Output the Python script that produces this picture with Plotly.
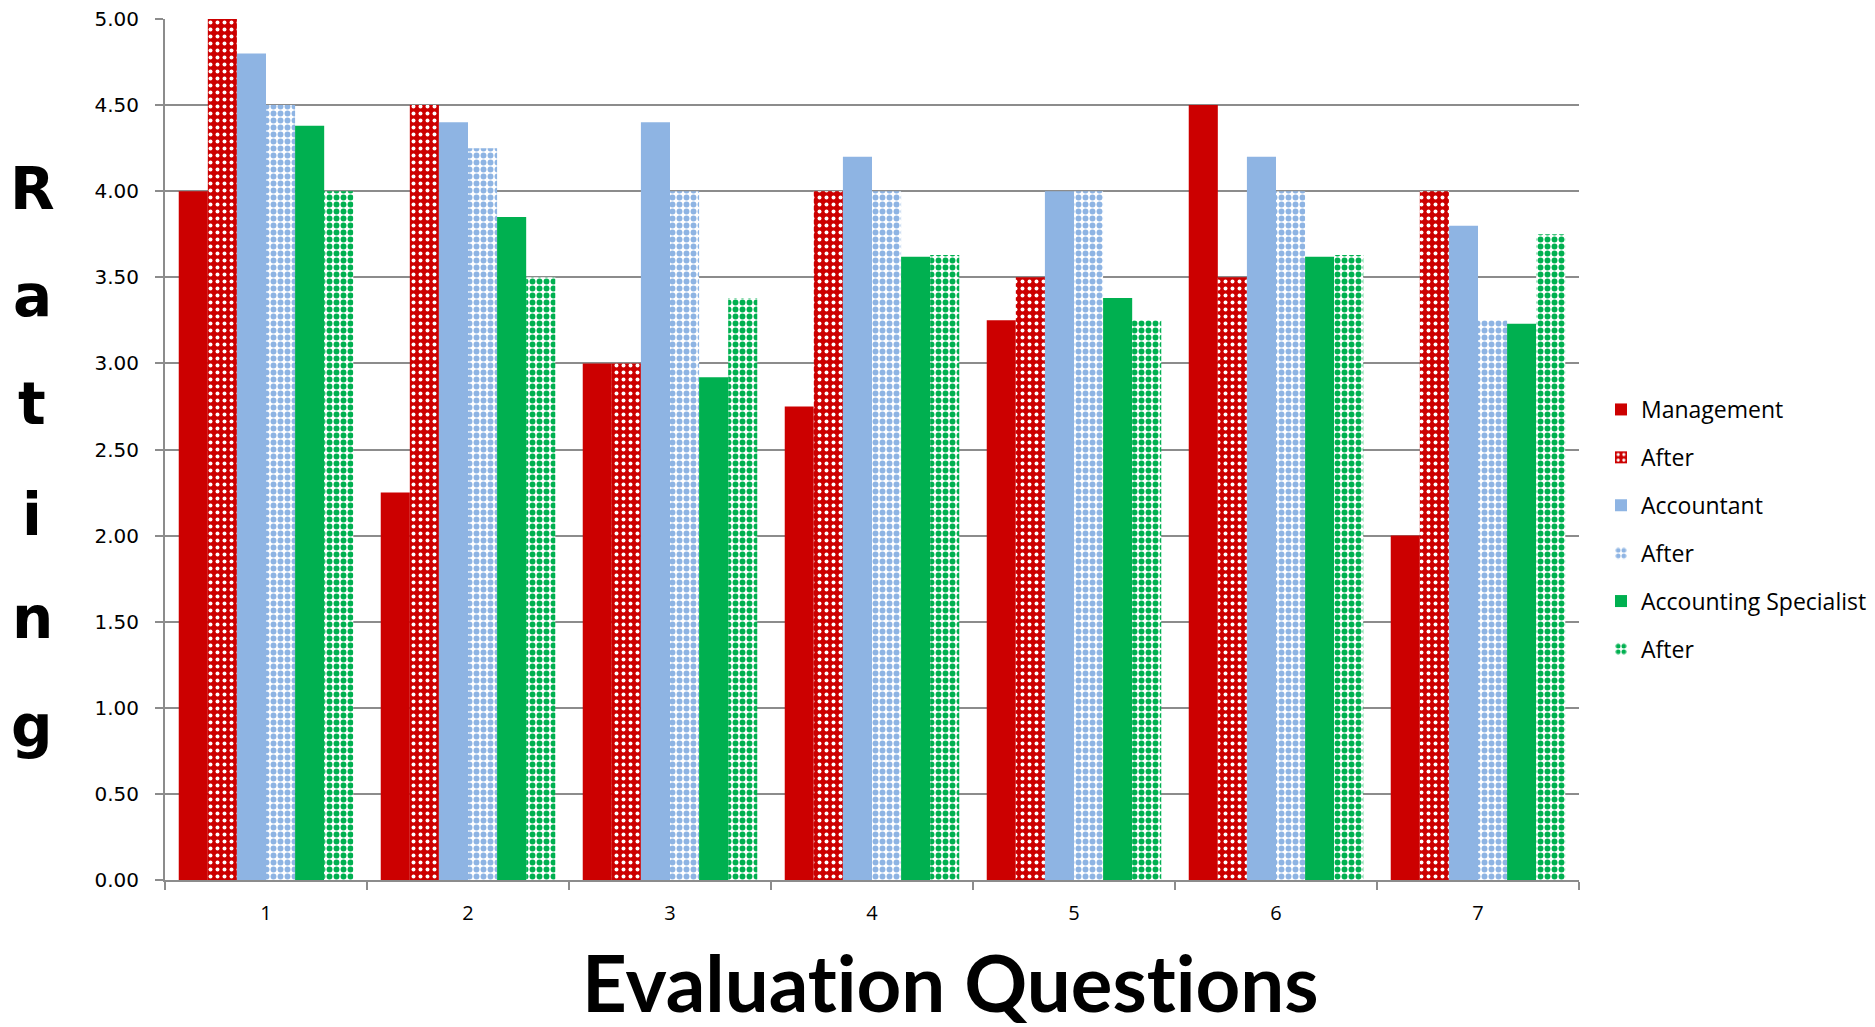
import plotly.graph_objects as go

questions = ["1", "2", "3", "4", "5", "6", "7"]
management = [4.00, 2.25, 3.00, 2.75, 3.25, 4.50, 2.00]
management_after = [5.00, 4.50, 3.00, 4.00, 3.50, 3.50, 4.00]
accountant = [4.80, 4.40, 4.40, 4.20, 4.00, 4.20, 3.80]
accountant_after = [4.50, 4.25, 4.00, 4.00, 4.00, 4.00, 3.25]
specialist = [4.38, 3.85, 2.92, 3.62, 3.38, 3.62, 3.23]
specialist_after = [4.00, 3.50, 3.38, 3.63, 3.25, 3.63, 3.75]
y_ticks = [0, 0.5, 1, 1.5, 2, 2.5, 3, 3.5, 4, 4.5, 5]

RED = "#CC0000"
BLUE = "#8EB4E3"
GREEN = "#00B050"

series = [
    ("Management", management, RED, None),
    ("After", management_after, RED, dict(shape=".", fgcolor="white", bgcolor=RED, size=7, solidity=0.25, fillmode="replace")),
    ("Accountant", accountant, BLUE, None),
    ("After", accountant_after, BLUE, dict(shape=".", fgcolor=BLUE, bgcolor="white", size=7, solidity=0.55, fillmode="replace")),
    ("Accounting Specialist", specialist, GREEN, None),
    ("After", specialist_after, GREEN, dict(shape=".", fgcolor=GREEN, bgcolor="white", size=7, solidity=0.55, fillmode="replace")),
]

fig = go.Figure()
for i, (name, vals, color, pat) in enumerate(series):
    marker = dict(color=color, line=dict(width=0))
    if pat:
        marker["pattern"] = pat
    fig.add_trace(go.Bar(x=questions, y=vals, name=name, marker=marker,
                         legendgroup=f"g{i}"))

# page offset of 8px (body margin) taken into account
L, R, T, B = 157, 304, 11, 155
PW = 1875 - L - R
PH = 1027 - T - B

def px_x(xp):
    return (xp - 8 - L) / PW

def px_y(yp):
    return (1027 - B - (yp - 8)) / PH

fig.update_layout(
    width=1875, height=1027,
    paper_bgcolor="white", plot_bgcolor="white",
    margin=dict(l=L, r=R, t=T, b=B, autoexpand=False),
    barmode="group", bargap=0.136, bargroupgap=0,
    font=dict(family="Open Sans", color="black"),
    showlegend=True,
    legend=dict(x=px_x(1601), y=px_y(388), xanchor="left", yanchor="top",
                font=dict(family="Open Sans", size=23, color="black"),
                tracegroupgap=15, itemwidth=30),
)
fig.update_xaxes(
    type="category", showline=True, linecolor="#8C8C8C", linewidth=2,
    ticks="outside", tickson="boundaries", ticklen=8, tickcolor="#8C8C8C", tickwidth=2,
    tickfont=dict(family="Open Sans", size=20, color="black"),
    ticklabelstandoff=14,
    showgrid=False, automargin=False,
)
fig.update_yaxes(
    range=[0, 5], tickvals=y_ticks, tickformat=".2f",
    showline=True, linecolor="#8C8C8C", linewidth=2,
    ticks="outside", ticklen=8, tickcolor="#8C8C8C", tickwidth=2,
    showgrid=True, gridcolor="#8C8C8C", gridwidth=2,
    tickfont=dict(family="DejaVu Sans", size=20, color="black"),
    ticklabelstandoff=12, ticklabeloverflow="allow",
    zeroline=False, automargin=False,
)

fig.add_annotation(text="<b>Evaluat\u200cion Quest\u200cions</b>", xref="paper", yref="paper",
                   x=px_x(950), y=px_y(982), xanchor="center", yanchor="middle",
                   showarrow=False, font=dict(family="Lato", size=78, color="black"))

letters = ["R", "a", "t", "i", "n", "g"]
ys = [189, 296, 404, 515, 618, 727]
for ch, ypx in zip(letters, ys):
    fig.add_annotation(text=f"<b>{ch}</b>", xref="paper", yref="paper",
                       x=px_x(32), y=px_y(ypx),
                       xanchor="center", yanchor="middle", showarrow=False,
                       font=dict(family="DejaVu Sans", size=58, color="black"))

fig.write_html("out.html")
